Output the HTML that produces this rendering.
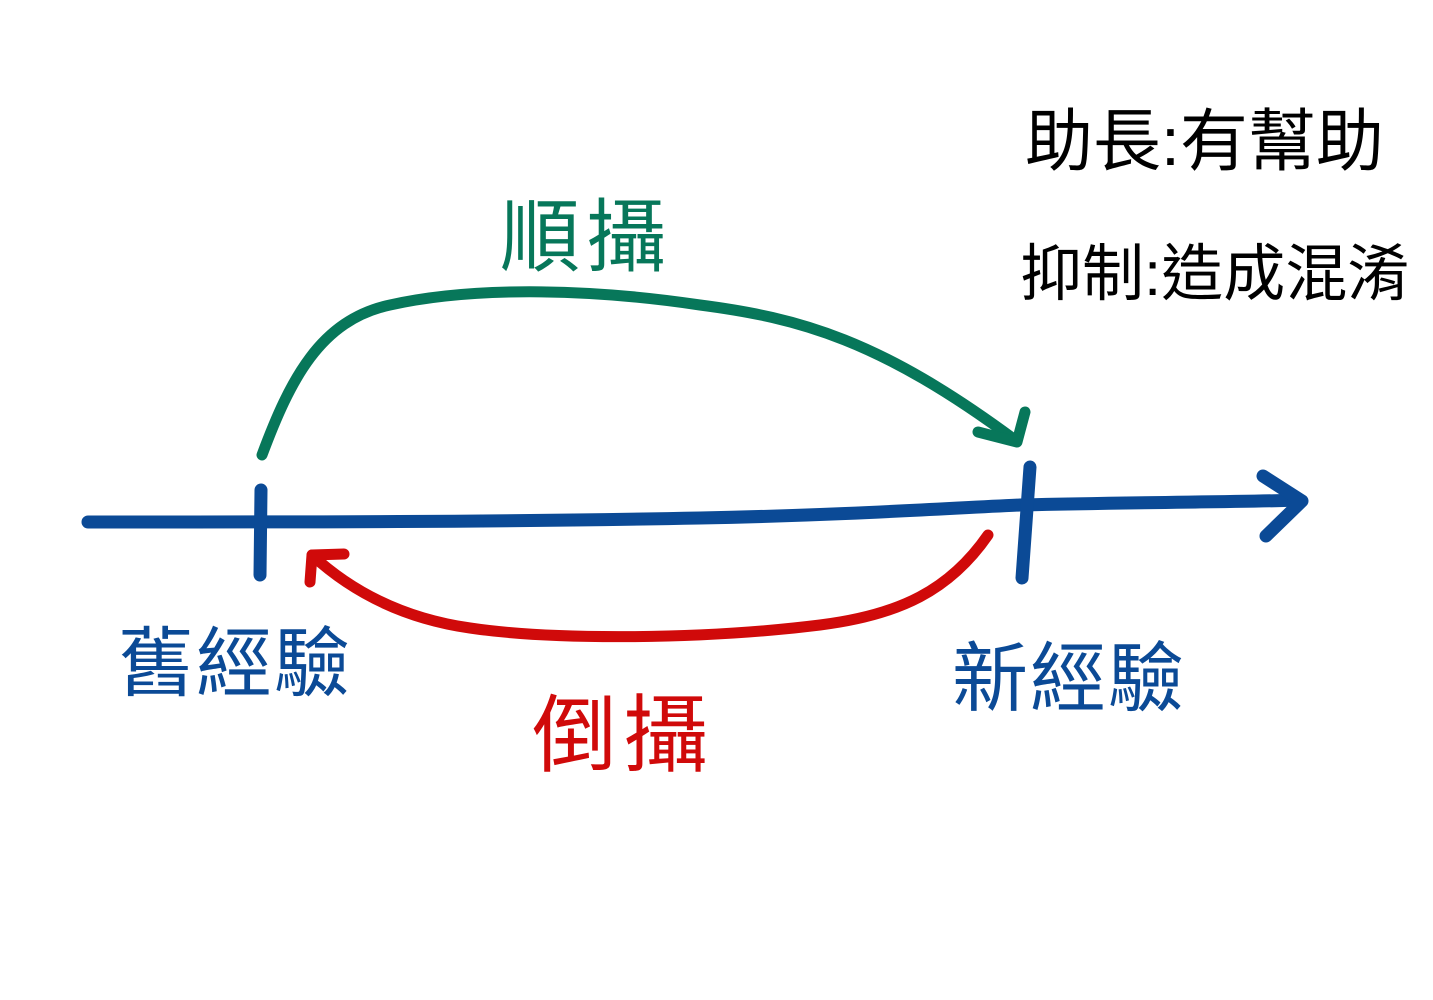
<!DOCTYPE html>
<html><head><meta charset="utf-8"><style>
html,body{margin:0;padding:0;background:#fff;}
svg{display:block;}
text{font-family:"Liberation Sans","Noto Sans CJK TC",sans-serif;}
</style></head><body>
<svg width="1433" height="1000" viewBox="0 0 1433 1000" xmlns="http://www.w3.org/2000/svg">
<rect width="1433" height="1000" fill="#fff"/>
<g fill="none" stroke-linecap="round" stroke-linejoin="round">
<!-- axis -->
<path d="M88 522 C300 522 500 522 700 518 C850 515 950 508 1020 505 C1150 502 1250 502 1300 500" stroke="#0b4a96" stroke-width="13"/>
<path d="M1263 476 L1302 501 L1266 536" stroke="#0b4a96" stroke-width="13"/>
<path d="M261 490 L260 575" stroke="#0b4a96" stroke-width="13"/>
<path d="M1030 467 L1022 578" stroke="#0b4a96" stroke-width="13"/>
<!-- green arc -->
<path d="M262 455 C290 380 320 320 390 305 C480 285 600 290 700 305 C800 318 880 340 1015 440" stroke="#07775a" stroke-width="11"/>
<path d="M978 432 L1017 442 L1025 412" stroke="#07775a" stroke-width="11"/>
<!-- red arc -->
<path d="M988 535 C950 590 900 615 820 625 C700 640 550 640 470 628 C400 618 350 590 312 555" stroke="#d00a0a" stroke-width="11"/>
<path d="M344 554 L312 555 L310 582" stroke="#d00a0a" stroke-width="11"/>
</g>
<text x="500" y="265" font-size="80" fill="#07775a" letter-spacing="6">順攝</text>
<text x="532" y="765" font-size="85" fill="#d00a0a" letter-spacing="6">倒攝</text>
<text x="118" y="690" font-size="76" fill="#0b4a96" letter-spacing="2">舊經驗</text>
<text x="952" y="705" font-size="76" fill="#0b4a96" letter-spacing="2">新經驗</text>
<text x="1025" y="165" font-size="68" fill="#000">助長:有幫助</text>
<text x="1020" y="295" font-size="62" fill="#000">抑制:造成混淆</text>
</svg>
</body></html>
